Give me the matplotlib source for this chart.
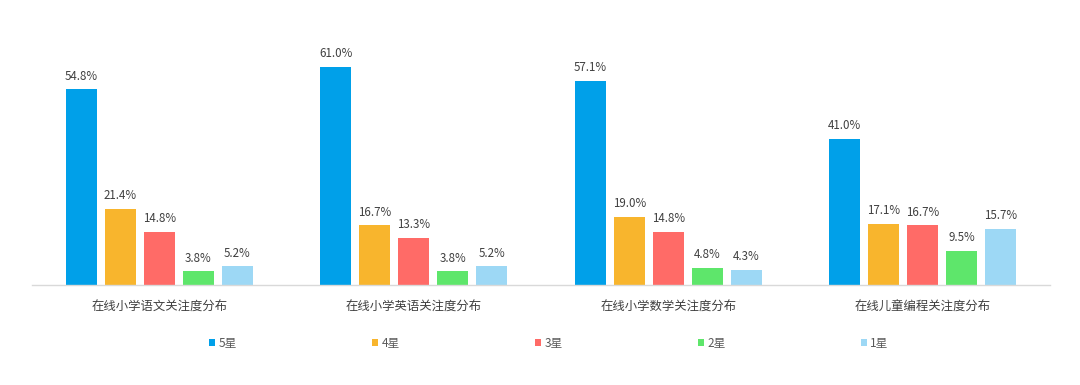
import matplotlib
matplotlib.use("Agg")
import matplotlib.pyplot as plt
import numpy as np
from matplotlib.patches import Patch

plt.rcParams['font.family'] = ['Noto Sans CJK SC', 'DejaVu Sans']

categories = ['在线小学语文关注度分布', '在线小学英语关注度分布', '在线小学数学关注度分布', '在线儿童编程关注度分布']
series_names = ['5星', '4星', '3星', '2星', '1星']
values = {
    '5星': [54.8, 61.0, 57.1, 41.0],
    '4星': [21.4, 16.7, 19.0, 17.1],
    '3星': [14.8, 13.3, 14.8, 16.7],
    '2星': [3.8, 3.8, 4.8, 9.5],
    '1星': [5.2, 5.2, 4.3, 15.7],
}
colors = ['#00a0e9', '#f8b52d', '#ff6b67', '#5ee66b', '#9dd8f5']

fig = plt.figure(figsize=(10.8, 3.85), dpi=100)
ax = fig.add_axes([32/1080, 100/385, 1018/1080, 250/385])

x = np.arange(len(categories))
width = 0.122
step = 0.1535
for i, name in enumerate(series_names):
    pos = x + (i - 2) * step
    bars = ax.bar(pos, values[name], width=width, color=colors[i], label=name, zorder=2)
    for b, v in zip(bars, values[name]):
        ax.annotate(f'{v:.1f}%', (b.get_x() + b.get_width()/2, v), xytext=(0, 4.8),
                    textcoords='offset points', ha='center', va='bottom',
                    fontsize=8.3, color='#404040')

ax.set_xlim(-0.5, 3.5)
ax.set_ylim(0, 70)
ax.set_xticks(x)
ax.set_xticklabels(categories, fontsize=8.9, color='#404040')
ax.tick_params(axis='x', length=0, pad=11)
ax.set_yticks([])
for s in ['top', 'right', 'left']:
    ax.spines[s].set_visible(False)
ax.spines['bottom'].set_color('#d9d9d9')
ax.spines['bottom'].set_linewidth(1)

handles = [Patch(facecolor=c, edgecolor='none') for c in colors]
leg = fig.legend(handles, series_names, loc='center left', bbox_to_anchor=(209/1080, 1 - 343/385),
                 ncol=5, frameon=False, fontsize=8.5, handlelength=0.55, handleheight=0.55,
                 handletextpad=0.25, columnspacing=11.45, borderpad=0, borderaxespad=0)
for t in leg.get_texts():
    t.set_color('#595959')

fig.savefig('out.png', dpi=100)
